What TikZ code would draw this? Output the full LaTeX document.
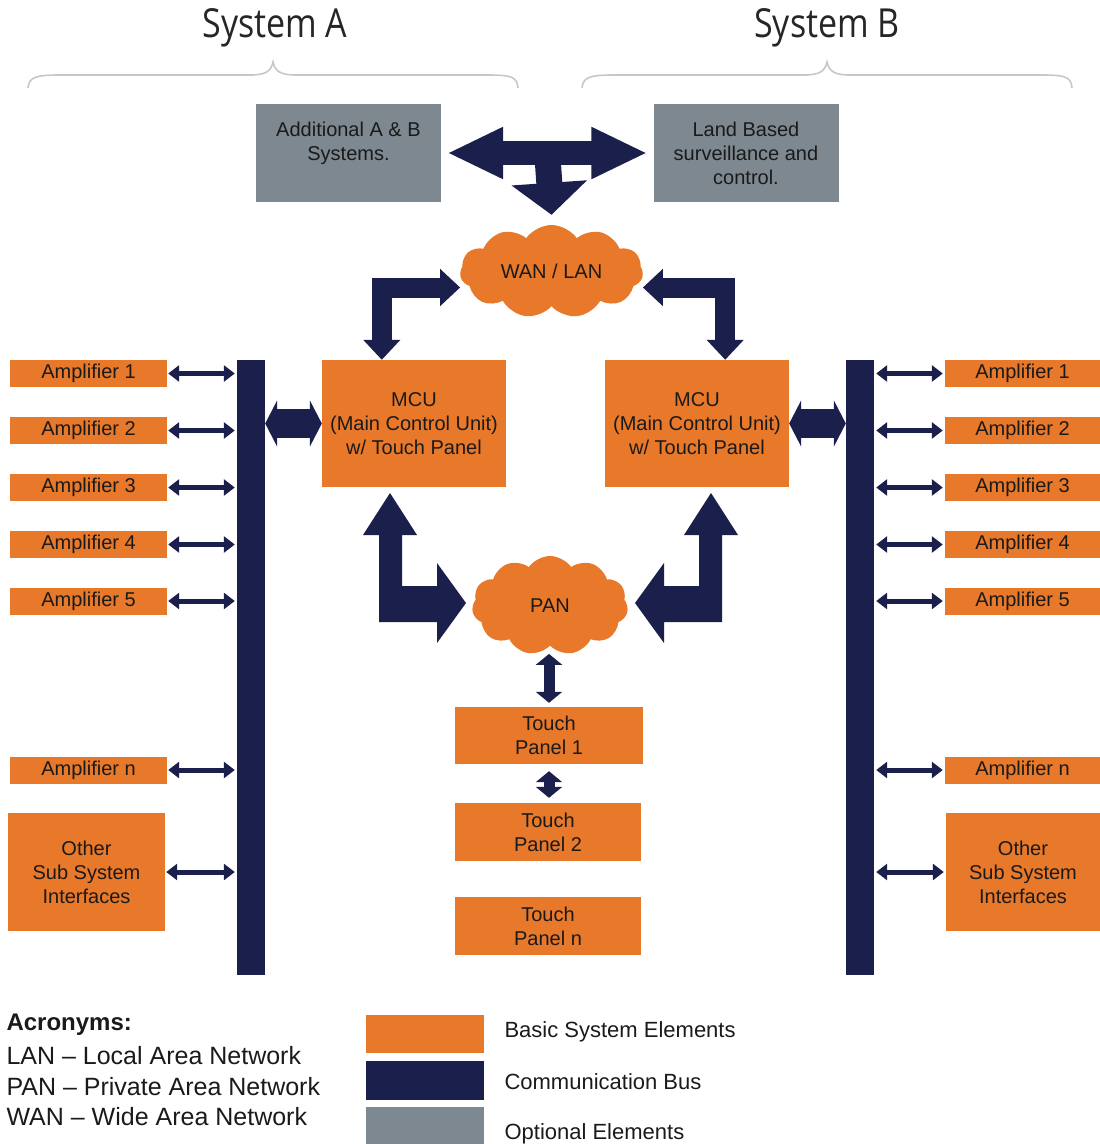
\documentclass[tikz,border=0pt]{standalone}
\usepackage{fontspec}
\setmainfont{Liberation Sans}
\newfontfamily\titlefont[FakeStretch=0.85]{Open Sans}
\usetikzlibrary{shapes.symbols,arrows.meta,calc}
\definecolor{sysorange}{HTML}{E8782A}
\definecolor{busnavy}{HTML}{1B1F4B}
\definecolor{optgray}{HTML}{7D8890}
\definecolor{inktext}{HTML}{1A1A1A}
\tikzset{
	basebox/.style={fill=sysorange,inner sep=0pt,align=center,text=inktext,font=\fontsize{20}{24}\selectfont},
	ampbox/.style={basebox,minimum width=157pt,minimum height=27pt},
	optbox/.style={basebox,fill=optgray,minimum width=185pt,minimum height=98pt},
	netcloud/.style={shape=cloud,cloud puffs=11,cloud puff arc=110,cloud ignores aspect,fill=sysorange,inner sep=0pt,text=inktext,font=\fontsize{20}{24}\selectfont},
	bus/.style={fill=busnavy,inner sep=0pt,minimum width=28pt,minimum height=615pt},
	thinarrow/.style={draw=busnavy,line width=5pt,{Triangle[length=11pt,width=16pt]}-{Triangle[length=11pt,width=16pt]}},
	busarrow/.style={draw=busnavy,line width=29pt,{Triangle[length=12pt,width=46pt]}-{Triangle[length=12pt,width=46pt]}},
	elbowarrow/.style={draw=busnavy,line width=20pt,{Triangle[length=20pt,width=36pt]}-{Triangle[length=20pt,width=36pt]}},
	tarrow/.style={draw=busnavy,line width=24pt,{Triangle[length=56pt,width=48pt]}-{Triangle[length=56pt,width=48pt]}},
	tstem/.style={draw=busnavy,line width=26pt,-{Triangle[length=32pt,width=74pt]}},
	tparrow/.style={draw=busnavy,line width=11pt,{Triangle[length=11pt,width=26pt]}-{Triangle[length=11pt,width=26pt]}},
	bracket/.style={draw=black!22,line width=1.6pt},
	titletext/.style={text=black!85,font=\titlefont\fontsize{40}{40}\selectfont},
	keytext/.style={anchor=west,text=inktext,font=\fontsize{22}{24}\selectfont},
	acrotext/.style={anchor=west,text=inktext,font=\fontsize{25}{28}\selectfont}
}
\begin{document}
\begin{tikzpicture}[x=1pt,y=-1pt]
	\useasboundingbox (0,0) rectangle (1100,1144);
	\node[titletext] (sysA) at (275,28) {System A};
	\node[titletext] (sysB) at (827,28) {System B};
	\draw[bracket] (28,88) .. controls (29,77) and (36,75) .. (60,75) -- (250,75) .. controls (266,75) and (271,71) .. (273,62) .. controls (275,71) and (280,75) .. (296,75) -- (488,75) .. controls (512,75) and (517,77) .. (518,88);
	\draw[bracket,xshift=554pt] (28,88) .. controls (29,77) and (36,75) .. (60,75) -- (250,75) .. controls (266,75) and (271,71) .. (273,62) .. controls (275,71) and (280,75) .. (296,75) -- (488,75) .. controls (512,75) and (517,77) .. (518,88);

	\node[optbox] (addl) at (348.5,153) {Additional A \& B\\Systems.\\\mbox{}};
	\node[optbox] (land) at (746,153) {Land Based\\surveillance and\\control.};
	\node[netcloud,minimum width=183pt,minimum height=93pt] (wan) at (551.5,271.5) {WAN / LAN};
	\coordinate (tjoin) at ($(addl.east)!0.5!(land.west)$);
	\draw[tstem] (tjoin) -- ([yshift=10pt]wan.north);
	\draw[tarrow,shorten <=6pt,shorten >=6pt] (addl.east) -- (land.west);

	\node[basebox,minimum width=184pt,minimum height=127pt] (mcuA) at (414,423.5) {MCU\\(Main Control Unit)\\w/ Touch Panel};
	\node[basebox,minimum width=184pt,minimum height=127pt] (mcuB) at (697,423.5) {MCU\\(Main Control Unit)\\w/ Touch Panel};
	\draw[elbowarrow] ([yshift=-16pt]wan.west) -| ([xshift=60pt]mcuA.north west);
	\draw[elbowarrow] ([yshift=-16pt]wan.east) -| ([xshift=-64pt]mcuB.north east);

	\node[bus] (busA) at (251,667.5) {};
	\node[bus] (busB) at (860,667.5) {};
	\draw[busarrow] (mcuA.west -| busA.east) -- (mcuA.west);
	\draw[busarrow] (mcuB.east) -- (mcuB.east -| busB.west);

	\node[ampbox] (ampA1) at (88.5,373.5) {Amplifier 1};
	\node[ampbox] (ampA2) at (88.5,430.5) {Amplifier 2};
	\node[ampbox] (ampA3) at (88.5,487.5) {Amplifier 3};
	\node[ampbox] (ampA4) at (88.5,544.5) {Amplifier 4};
	\node[ampbox] (ampA5) at (88.5,601) {Amplifier 5};
	\node[ampbox] (ampAn) at (88.5,770) {Amplifier n};
	\node[basebox,minimum width=157pt,minimum height=118pt] (otherA) at (86.5,872) {Other\\Sub System\\Interfaces};
	\draw[thinarrow,shorten <=1pt,shorten >=2pt] (ampA1.east) -- (ampA1.east -| busA.west);
	\draw[thinarrow,shorten <=1pt,shorten >=2pt] (ampA2.east) -- (ampA2.east -| busA.west);
	\draw[thinarrow,shorten <=1pt,shorten >=2pt] (ampA3.east) -- (ampA3.east -| busA.west);
	\draw[thinarrow,shorten <=1pt,shorten >=2pt] (ampA4.east) -- (ampA4.east -| busA.west);
	\draw[thinarrow,shorten <=1pt,shorten >=2pt] (ampA5.east) -- (ampA5.east -| busA.west);
	\draw[thinarrow,shorten <=1pt,shorten >=2pt] (ampAn.east) -- (ampAn.east -| busA.west);
	\draw[thinarrow,shorten <=1pt,shorten >=2pt] (otherA.east) -- (otherA.east -| busA.west);

	\node[ampbox,minimum width=155pt] (ampB1) at (1022.5,373.5) {Amplifier 1};
	\node[ampbox,minimum width=155pt] (ampB2) at (1022.5,430.5) {Amplifier 2};
	\node[ampbox,minimum width=155pt] (ampB3) at (1022.5,487.5) {Amplifier 3};
	\node[ampbox,minimum width=155pt] (ampB4) at (1022.5,544.5) {Amplifier 4};
	\node[ampbox,minimum width=155pt] (ampB5) at (1022.5,601) {Amplifier 5};
	\node[ampbox,minimum width=155pt] (ampBn) at (1022.5,770) {Amplifier n};
	\node[basebox,minimum width=154pt,minimum height=118pt] (otherB) at (1023,872) {Other\\Sub System\\Interfaces};
	\draw[thinarrow,shorten <=2pt,shorten >=2pt] (ampB1.west -| busB.east) -- (ampB1.west);
	\draw[thinarrow,shorten <=2pt,shorten >=2pt] (ampB2.west -| busB.east) -- (ampB2.west);
	\draw[thinarrow,shorten <=2pt,shorten >=2pt] (ampB3.west -| busB.east) -- (ampB3.west);
	\draw[thinarrow,shorten <=2pt,shorten >=2pt] (ampB4.west -| busB.east) -- (ampB4.west);
	\draw[thinarrow,shorten <=2pt,shorten >=2pt] (ampB5.west -| busB.east) -- (ampB5.west);
	\draw[thinarrow,shorten <=2pt,shorten >=2pt] (ampBn.west -| busB.east) -- (ampBn.west);
	\draw[thinarrow,shorten <=2pt,shorten >=2pt] (otherB.west -| busB.east) -- (otherB.west);

	\node[netcloud,minimum width=156pt,minimum height=99pt] (pan) at (550,605.5) {PAN};
	\fill[busnavy] (390,493) -- (417,535) -- (402,535) -- (402,586) -- (437,586) -- (437,563) -- (466,603) -- (437,643) -- (437,622) -- (379,622) -- (379,535) -- (363,535) -- cycle;
	\fill[busnavy,xshift=1101pt,xscale=-1] (390,493) -- (417,535) -- (402,535) -- (402,586) -- (437,586) -- (437,563) -- (466,603) -- (437,643) -- (437,622) -- (379,622) -- (379,535) -- (363,535) -- cycle;

	\node[basebox,minimum width=188pt,minimum height=57pt] (tp1) at (549,735.5) {Touch\\Panel 1};
	\node[basebox,minimum width=186pt,minimum height=58pt] (tp2) at (548,832) {Touch\\Panel 2};
	\node[basebox,minimum width=186pt,minimum height=58pt] (tpn) at (548,926) {Touch\\Panel n};
	\draw[tparrow,shorten <=4pt,shorten >=8pt] (tp1.north) -- (tp1.north |- pan.south);
	\draw[tparrow,shorten <=7pt,shorten >=5pt] (tp1.south) -- (tp1.south |- tp2.north);

	\node[anchor=west,text=inktext,font=\bfseries\fontsize{24}{24}\selectfont] (acro) at (3,1025) {Acronyms:};
	\node[acrotext] (lan) at (3,1056) {LAN – Local Area Network};
	\node[acrotext] (panline) at (3,1087) {PAN – Private Area Network};
	\node[acrotext] (wanline) at (3,1117) {WAN – Wide Area Network};
	\node[fill=sysorange,minimum width=118pt,minimum height=38pt] (keybasic) at (425,1034) {};
	\node[fill=busnavy,minimum width=118pt,minimum height=39pt] (keybus) at (425,1080.5) {};
	\node[fill=optgray,minimum width=118pt,minimum height=38pt] (keyopt) at (425,1126) {};
	\node[keytext] (keybasictext) at (501,1032) {Basic System Elements};
	\node[keytext] (keybustext) at (501,1082) {Communication Bus};
	\node[keytext] (keyopttext) at (501,1134) {Optional Elements};
\end{tikzpicture}
\end{document}
